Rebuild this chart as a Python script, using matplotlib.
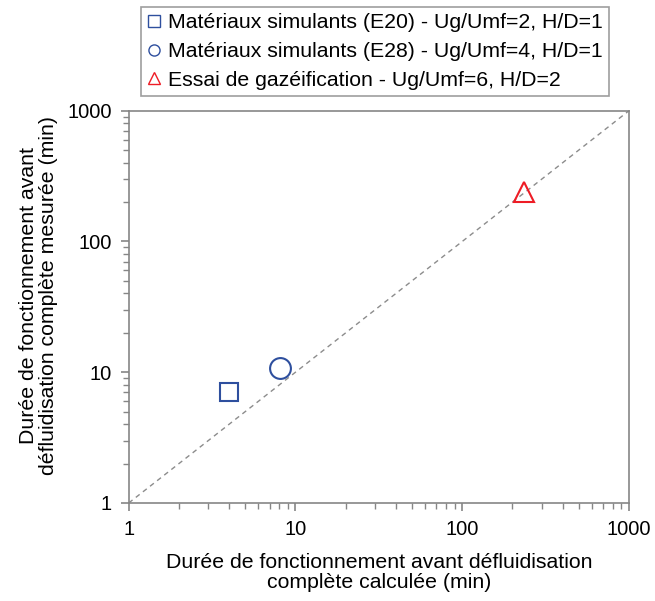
import matplotlib
matplotlib.use("Agg")
import matplotlib.pyplot as plt
from matplotlib.ticker import LogLocator, FuncFormatter, NullFormatter

plt.rcParams['font.family'] = ['Liberation Sans', 'DejaVu Sans']

# Données
series_labels = [
    "Matériaux simulants (E20) - Ug/Umf=2, H/D=1",
    "Matériaux simulants (E28) - Ug/Umf=4, H/D=1",
    "Essai de gazéification - Ug/Umf=6, H/D=2",
]
t_calc = [4.0, 8.1, 236.0]     # durée calculée (min)
t_mes = [7.0, 10.8, 238.0]     # durée mesurée (min)
markers = ['s', 'o', '^']
colors = ['#2E4F9E', '#2E4F9E', '#EE1C25']
parity = [1, 1000]             # droite y = x
tick_vals = [1, 10, 100, 1000]

grey = '#868686'

fig = plt.figure(figsize=(6.55, 6.01), dpi=100)
ax = fig.add_axes([0.1965, 0.1631, 0.7638, 0.6527])

ax.plot(parity, parity, linestyle=(0, (3.5, 3)), color='#8C8C8C', linewidth=1.0, zorder=1)

sizes = [13, 15, 15]
handles = []
for x, y, m, c, lab, s in zip(t_calc, t_mes, markers, colors, series_labels, sizes):
    ax.plot([x], [y], linestyle='none', marker=m, markersize=s,
            markerfacecolor='none', markeredgecolor=c, markeredgewidth=1.5, zorder=3)
    h, = ax.plot([], [], linestyle='none', marker=m, markersize=8,
                 markerfacecolor='none', markeredgecolor=c, markeredgewidth=1.0, label=lab)
    handles.append(h)

ax.set_xscale('log')
ax.set_yscale('log')
ax.set_xlim(1, 1000)
ax.set_ylim(1, 1000)

fmt = FuncFormatter(lambda v, p: f"{v:g}")
for axis in (ax.xaxis, ax.yaxis):
    axis.set_major_locator(LogLocator(base=10))
    axis.set_minor_locator(LogLocator(base=10, subs=range(2, 10)))
    axis.set_major_formatter(fmt)
    axis.set_minor_formatter(NullFormatter())
ax.set_xticks(tick_vals)
ax.set_yticks(tick_vals)

for sp in ax.spines.values():
    sp.set_color(grey)
    sp.set_linewidth(1.2)
ax.tick_params(which='major', direction='out', length=6, width=1.2, color=grey,
               labelsize=14.5, pad=6)
ax.tick_params(which='minor', direction='out', length=4, width=1.0, color=grey)

ax.set_xlabel("Durée de fonctionnement avant défluidisation\ncomplète calculée (min)",
              fontsize=15.3, labelpad=10, linespacing=1.1)
ax.set_ylabel("Durée de fonctionnement avant\ndéfluidisation complète mesurée (min)",
              fontsize=15.3, linespacing=1.1)
ax.yaxis.set_label_coords(-0.141, 0.53)

leg = fig.legend(handles=handles, loc='upper left', bbox_to_anchor=(141 / 655, 1 - 7 / 601),
                 borderaxespad=0, fontsize=15.3, frameon=True, fancybox=False,
                 handlelength=0.6, handletextpad=0.35, borderpad=0.3, labelspacing=0.45)
leg.get_frame().set_edgecolor(grey)
leg.get_frame().set_linewidth(1.2)

fig.savefig('out.png', dpi=100)
